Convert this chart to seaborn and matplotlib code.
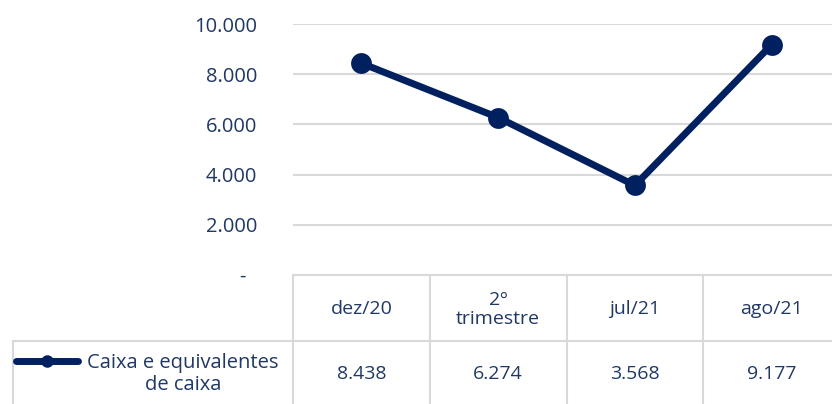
import matplotlib
matplotlib.use("Agg")
import matplotlib.pyplot as plt
import seaborn as sns
from matplotlib.ticker import FuncFormatter

sns.set_theme(style="white")
plt.rcParams['font.family'] = ['Open Sans', 'DejaVu Sans']

# dados
periodos = ["dez/20", "2º\ntrimestre", "jul/21", "ago/21"]
caixa = [8438, 6274, 3568, 9177]
valores_txt = ["8.438", "6.274", "3.568", "9.177"]
serie = "Caixa e equivalentes\nde caixa"

azul = "#002060"
texto = "#1F3864"
grade = "#D9D9D9"

W, H = 832, 404
fig = plt.figure(figsize=(W / 100, H / 100), dpi=100)

# área do gráfico (pixels -> fração da figura)
x0, x1 = 293, 840
y_top, y_zero = 24, 275
ax = fig.add_axes([x0 / W, 1 - y_zero / H, (x1 - x0) / W, (y_zero - y_top) / H])

sns.lineplot(x=periodos, y=caixa, ax=ax, color=azul, linewidth=5,
             marker="o", markersize=15, markeredgewidth=0, sort=False)

ax.set_xlim(-0.5, 3.5)
ax.set_ylim(0, 10000)
ax.set_yticks(range(0, 10001, 2000))
ax.yaxis.set_major_formatter(FuncFormatter(
    lambda v, p: "-  " if v == 0 else f"{int(v):,}".replace(",", ".")))
ax.tick_params(axis="y", length=0, pad=26, labelsize=14.5, labelcolor=texto)
ax.set_xticks([])
ax.set_xlabel("")
ax.set_ylabel("")
ax.grid(axis="y", color=grade, linewidth=1.5)
ax.set_axisbelow(True)
for s in ax.spines.values():
    s.set_visible(False)

# tabela de dados
x_left = 13
scale = (x1 - x0) / 4
tx_min = -0.5 - (x0 - x_left) / scale
t_bottom = 407
tax = fig.add_axes([x_left / W, 1 - t_bottom / H, (x1 - x_left) / W, (t_bottom - y_zero) / H])
tax.set_xlim(tx_min, 3.5)
tax.set_ylim(2, 0)
tax.axis("off")

kw = dict(color=grade, linewidth=1.5, clip_on=False)
tax.plot([-0.5, 3.5], [0, 0], **kw)
tax.plot([tx_min, 3.5], [1, 1], **kw)
tax.plot([tx_min, tx_min], [1, 2], **kw)
for i in range(5):
    tax.plot([i - 0.5, i - 0.5], [0, 2], **kw)

for i, (lab, val) in enumerate(zip(periodos, valores_txt)):
    tax.text(i, 0.52, lab, ha="center", va="center", fontsize=14,
             color=texto, linespacing=1.05)
    tax.text(i, 1.5, val, ha="center", va="center", fontsize=14, color=texto)

# chave da legenda
kx0 = tx_min + 3 / scale
kx1 = tx_min + 65 / scale
tax.plot([kx0, kx1], [1.3, 1.3], color=azul, linewidth=5,
         solid_capstyle="round", clip_on=False)
tax.plot([(kx0 + kx1) / 2], [1.3], marker="o", color=azul, markersize=9,
         markeredgewidth=0, clip_on=False)
tax.text(tx_min + 170 / scale, 1.5, serie, ha="center", va="center",
         fontsize=14.5, color=texto, linespacing=1.1)

fig.savefig("out.png", dpi=100)
